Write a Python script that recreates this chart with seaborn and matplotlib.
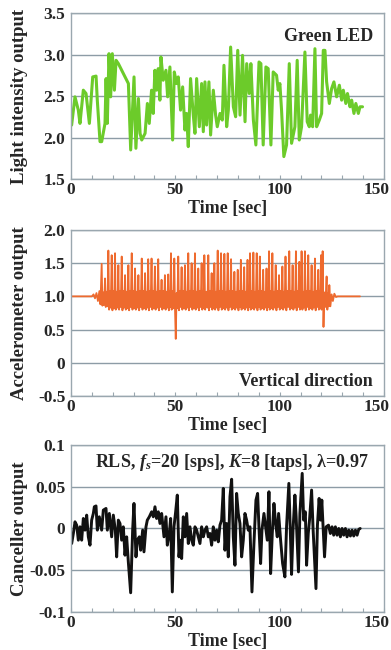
import numpy as np
import pandas as pd
import matplotlib
matplotlib.use("Agg")
import matplotlib.pyplot as plt
from matplotlib.ticker import MultipleLocator
from matplotlib.transforms import ScaledTranslation
import seaborn as sns

# ---------------- data ----------------
led_time = [0.3, 1.9, 3.5, 4.3, 5.9, 7.2, 8.8, 10.4, 12.0, 12.6, 13.9, 14.7, 16.3, 16.8, 17.4,
            18.2, 19.0, 19.8, 20.8, 21.6, 22.7, 27.5, 28.6, 29.5, 30.2, 31.1, 32.3, 33.1, 33.9,
            35.5, 36.6, 37.5, 38.6, 39.4, 40.2, 41.0, 41.8, 42.6, 43.1, 44.2, 45.5, 46.3, 47.4,
            48.7, 49.5, 50.6, 51.4, 52.5, 53.5, 54.6, 55.4, 56.2, 57.3, 58.6, 59.4, 60.2, 61.5,
            62.6, 63.4, 64.2, 65.0, 66.1, 66.9, 68.2, 69.3, 70.1, 71.4, 72.5, 73.3, 74.6, 75.4,
            76.5, 77.8, 78.9, 79.9, 81.0, 82.2, 83.4, 84.2, 85.4, 86.2, 87.4, 88.6, 90.1, 91.0,
            92.1, 93.4, 94.5, 95.8, 96.9, 98.5, 99.3, 100.1, 100.9, 102.0, 103.3, 104.6, 105.7,
            107.3, 108.4, 109.4, 110.5, 112.1, 113.2, 114.2, 114.8, 115.8, 116.9, 117.7, 119.0,
            120.1, 120.9, 121.7, 122.5, 123.8, 124.9, 126.0, 127.3, 128.6, 129.7, 130.5, 131.7,
            132.5, 133.7, 134.5, 135.6, 136.5, 137.7, 138.5, 139.7]
led_value = [2.15, 2.49, 2.33, 2.17, 2.57, 2.53, 2.17, 2.73, 2.74, 2.45, 1.95, 1.95, 2.17, 2.71, 2.17,
             3.01, 2.49, 3.01, 2.57, 2.93, 2.89, 2.65, 1.85, 2.33, 2.73, 1.87, 2.47, 2.05, 1.97,
             2.05, 2.41, 2.17, 2.57, 2.29, 2.81, 2.57, 2.83, 2.45, 2.97, 2.69, 2.81, 2.49, 2.85,
             1.97, 2.79, 2.65, 2.73, 2.33, 2.61, 2.09, 2.29, 1.89, 2.71, 2.27, 2.05, 2.71, 2.13,
             2.65, 2.07, 2.67, 2.15, 2.67, 2.03, 2.57, 2.27, 2.13, 2.29, 2.21, 2.87, 2.13, 2.33,
             3.09, 2.37, 2.25, 3.05, 2.27, 2.99, 2.19, 2.89, 2.53, 2.89, 2.21, 1.91, 2.91, 2.89,
             1.91, 2.85, 2.83, 1.91, 2.79, 2.75, 2.57, 2.65, 2.33, 1.77, 1.91, 2.89, 1.93,
             2.13, 2.93, 1.97, 2.13, 3.03, 2.19, 2.13, 2.27, 2.13, 3.07, 2.13, 2.21,
             2.29, 3.05, 3.05, 2.67, 2.41, 2.59, 2.67, 2.49, 2.63, 2.45, 2.57, 2.41,
             2.53, 2.37, 2.45, 2.29, 2.41, 2.29, 2.37, 2.37]

acc_time = [0.0, 10.0, 10.8, 11.5, 12.2, 12.9, 13.6, 14.1,
            14.7, 15.05, 15.5, 15.85, 16.3, 16.65, 17.1, 17.45, 17.9, 18.25, 18.7, 19.05,
            19.5, 19.85, 20.3, 20.65, 21.1, 21.45, 21.9, 22.25, 22.7, 23.05, 23.5, 23.85,
            24.3, 24.65, 25.1, 25.45, 25.9, 26.25, 26.7, 27.05, 27.5, 27.85, 28.3, 28.65,
            29.1, 29.45, 29.9, 30.25, 30.7, 31.05, 31.5, 31.85, 32.3, 32.65, 33.1, 33.45,
            33.9, 34.25, 34.7, 35.05, 35.5, 35.85, 36.3, 36.65, 37.0, 37.35, 37.8, 38.15,
            38.6, 38.95, 39.4, 39.75, 40.2, 40.55, 41.0, 41.35, 41.8, 42.15, 42.6, 42.95,
            43.4, 43.75, 44.2, 44.55, 45.0, 45.35, 45.8, 46.15, 46.6, 46.9, 47.25, 47.55,
            47.9, 48.25, 48.7, 49.05, 49.5, 49.85, 50.2, 50.6, 50.95,
            51.4, 51.75, 52.2, 52.55, 53.0, 53.35, 53.8, 54.15, 54.6, 54.95, 55.4, 55.75,
            56.2, 56.55, 57.0, 57.35, 57.8, 58.15, 58.6, 58.95, 59.4, 59.75, 60.2, 60.55,
            61.0, 61.35, 61.8, 62.15, 62.6, 62.9, 63.25, 63.55, 63.9, 64.3, 64.9, 65.4,
            65.8, 66.15, 66.6, 66.95, 67.4, 67.7, 68.05, 68.35, 68.7, 69.05, 69.5, 69.85,
            70.3, 70.65, 71.1, 71.45, 71.9, 72.25, 72.7, 73.05, 73.5, 73.85, 74.3, 74.65,
            75.1, 75.45, 75.9, 76.25, 76.7, 77.05, 77.5, 77.85, 78.3, 78.65, 79.1, 79.45,
            79.9, 80.25, 80.65, 81.0, 81.4, 81.75, 82.2, 82.55, 83.0, 83.35, 83.8, 84.15,
            84.6, 84.9, 85.2, 85.5, 85.8, 86.15, 86.6, 86.95, 87.4, 87.75, 88.2, 88.55,
            89.0, 89.35, 89.75, 90.1, 90.5, 90.85, 91.3, 91.65, 92.1, 92.45, 92.9, 93.25,
            93.7, 94.0, 94.3, 94.6, 94.9, 95.25, 95.7, 96.05, 96.5, 96.85, 97.3, 97.65,
            98.1, 98.45, 98.9, 99.25, 99.7, 100.05, 100.5, 100.85, 101.3, 101.65, 102.05, 102.4,
            102.8, 103.2, 103.7, 104.15, 104.6, 104.95, 105.4, 105.75, 106.2, 106.55, 107.0, 107.35,
            107.8, 108.15, 108.6, 108.95, 109.4, 109.7, 109.95, 110.2, 110.5, 110.9, 111.3, 111.7,
            112.1, 112.45, 112.9, 113.25, 113.7, 114.05, 114.5, 114.85, 115.3, 115.65, 116.1, 116.45,
            116.9, 117.25, 117.7, 118.05, 118.5, 118.8, 119.15, 119.45, 119.8, 120.1, 120.35,
            120.6, 121.0, 121.4, 121.8, 122.1, 122.5, 122.85, 123.2, 123.5,
            123.8, 124.3, 124.9, 125.5, 126.2, 127.0, 127.8, 138.5]
acc_value = [1.0, 1.0, 1.03, 0.97, 1.05, 0.93, 1.08, 0.88,
             1.49, 0.86, 1.06, 0.87, 1.27, 0.84, 1.07, 0.85, 1.69, 0.80, 1.08, 0.83,
             1.62, 0.79, 1.08, 0.82, 1.65, 0.80, 1.07, 0.83, 1.47, 0.80, 1.08, 0.84,
             1.60, 0.79, 1.08, 0.83, 1.32, 0.80, 1.07, 0.82, 1.47, 0.79, 1.08, 0.84,
             1.65, 0.80, 1.08, 0.82, 1.42, 0.80, 1.07, 0.83, 1.32, 0.79, 1.08, 0.84,
             1.57, 0.80, 1.08, 0.82, 1.35, 0.80, 1.07, 0.83, 1.56, 0.79, 1.08, 0.84,
             1.57, 0.80, 1.08, 0.82, 1.45, 0.80, 1.07, 0.83, 1.56, 0.79, 1.08, 0.84,
             1.25, 0.80, 1.08, 0.82, 1.32, 0.80, 1.07, 0.83, 1.33, 0.79, 1.08, 0.84,
             1.65, 0.80, 1.08, 0.82, 1.57, 0.80, 0.36, 1.05, 0.82,
             1.60, 0.79, 1.08, 0.84, 1.44, 0.80, 1.08, 0.82, 1.47, 0.80, 1.07, 0.83,
             1.65, 0.79, 1.08, 0.84, 1.50, 0.80, 1.08, 0.82, 1.65, 0.80, 1.07, 0.83,
             1.42, 0.79, 1.08, 0.84, 1.50, 0.80, 1.08, 0.82, 1.62, 0.80, 1.07, 0.83,
             1.62, 0.79, 1.08, 0.84, 1.35, 0.80, 1.08, 0.82, 1.50, 0.80, 1.07, 0.83,
             1.69, 0.79, 1.08, 0.84, 1.65, 0.80, 1.08, 0.82, 1.64, 0.80, 1.07, 0.83,
             1.65, 0.79, 1.08, 0.84, 1.56, 0.80, 1.08, 0.82, 1.37, 0.80, 1.07, 0.83,
             1.40, 0.79, 1.08, 0.84, 1.55, 0.80, 1.08, 0.82, 1.44, 0.80, 1.07, 0.83,
             1.55, 0.79, 1.08, 0.84, 1.65, 0.80, 1.08, 0.82, 1.66, 0.80, 1.07, 0.83,
             1.65, 0.79, 1.08, 0.84, 1.60, 0.80, 1.08, 0.82, 1.40, 0.80, 1.07, 0.83,
             1.42, 0.79, 1.08, 0.84, 1.68, 0.80, 1.08, 0.82, 1.65, 0.80, 1.07, 0.83,
             1.47, 0.79, 1.08, 0.84, 1.32, 0.80, 1.08, 0.82, 1.45, 0.80, 1.07, 0.83,
             1.60, 0.79, 1.08, 0.84, 1.68, 0.80, 1.08, 0.82, 1.47, 0.80, 1.07, 0.83,
             1.68, 0.79, 1.08, 0.84, 1.52, 0.80, 1.08, 0.82, 1.68, 0.80, 1.07, 0.83,
             1.68, 0.79, 1.08, 0.84, 1.62, 0.80, 1.08, 0.82, 1.47, 0.80, 1.07, 0.83,
             1.57, 0.79, 1.08, 0.84, 1.40, 0.80, 1.08, 0.82, 1.62, 0.80, 1.05,
             1.68, 0.54, 1.06, 0.84, 1.02, 1.30, 0.80, 1.05, 0.85,
             1.17, 0.85, 1.03, 0.93, 1.04, 0.99, 1.0, 1.0]

can_time = [0.32, 1.12, 1.92, 2.72, 3.51, 4.31, 5.11, 5.91, 6.71, 7.51, 8.30, 9.10, 9.90, 10.70,
            11.18, 11.98, 12.62, 13.57, 14.69, 15.49, 16.77, 17.41, 18.37, 19.48, 20.28, 21.24,
            21.88, 22.68, 23.48, 24.27, 25.07, 25.87, 26.67, 27.47, 28.59, 29.54, 30.18, 31.14,
            31.78, 32.74, 33.38, 34.34, 34.97, 35.93, 36.57, 37.53, 38.65, 39.45, 40.24, 41.04,
            41.84, 42.64, 43.44, 44.56, 45.51, 46.15, 47.11, 47.75, 48.55, 49.35, 50.15, 50.94,
            51.74, 52.54, 53.02, 53.82, 54.62, 55.42, 56.21, 57.01, 57.81, 58.61, 59.41, 60.21,
            61.01, 61.80, 62.60, 63.40, 64.20, 65.00, 65.80, 66.60, 67.39, 68.19, 68.99, 69.79,
            70.59, 71.39, 72.18, 72.98, 73.78, 74.58, 75.38, 76.18, 76.98, 77.77, 78.57, 79.37,
            80.17, 80.97, 81.77, 82.57, 83.36, 84.16, 84.96, 85.76, 86.72, 87.67, 88.63, 89.43,
            90.07, 90.87, 91.51, 92.47, 93.26, 94.06, 94.86, 95.66, 96.46, 97.26, 98.06, 98.85,
            99.49, 100.45, 101.41, 102.5, 103.3, 104.4, 105.0, 105.7, 106.4, 107.3, 107.9, 109.0,
            109.7, 110.8, 111.5, 112.3, 112.9, 113.7, 114.3, 115.3, 116.0, 117.4, 118.1, 118.9,
            119.6, 120.2, 121.5, 122.3, 123.4, 124.3, 125.1, 125.9, 126.7, 127.5, 128.3, 129.1,
            129.9, 130.7, 131.5, 132.3, 133.1, 133.9, 134.7, 135.5, 136.3, 137.1, 137.9, 138.6]
can_value = [-0.018, -0.006, 0.008, 0.004, -0.014, 0.002, -0.014, 0.012, -0.002, 0.016, -0.010,
             -0.020, 0.010, 0.018, 0.026, 0.027, -0.002, 0.014, -0.002, 0.022, 0.024, -0.002,
             0.018, -0.010, 0.016, -0.002, -0.034, 0.010, 0.006, -0.014, 0.002, -0.032, -0.010,
             -0.040, -0.077, -0.002, 0.030, -0.034, -0.014, -0.010, -0.026, -0.002, -0.028,
             0.002, 0.010, 0.014, 0.020, 0.014, 0.026, 0.012, 0.020, 0.006, 0.018, -0.010,
             0.014, -0.020, -0.006, 0.012, -0.076, 0.002, 0.020, 0.040, -0.034, -0.014, -0.036,
             0.014, -0.010, 0.018, -0.018, 0.002, -0.014, -0.020, 0.002, -0.002, -0.010, -0.018,
             0.002, -0.010, -0.002, 0.002, -0.010, -0.006, -0.020, 0.002, -0.014, -0.002, -0.016,
             0.004, 0.010, 0.048, -0.026, 0.006, -0.034, 0.038, 0.059, -0.010, -0.044, 0.042,
             0.018, 0.006, -0.034, -0.014, 0.018, 0.010, -0.002, 0.002, -0.076, -0.018, 0.034,
             0.042, 0.002, -0.042, -0.002, 0.018, 0.002, -0.014, 0.044, -0.054, -0.006, 0.030,
             0.006, -0.010, 0.018, -0.014, -0.042, -0.058, 0.002, 0.054, 0.006, -0.055, -0.002,
             0.040, 0.014, -0.052, 0.018, 0.066, 0.010, 0.020, -0.044, -0.006, 0.010, 0.046,
             0.000, -0.072, 0.004, 0.036, 0.010, 0.034, -0.034, 0.002, 0.004, -0.006, 0.002,
             -0.008, 0.002, -0.008, 0.000, -0.010, 0.000, -0.008, 0.000, -0.010, -0.002, -0.009,
             -0.002, -0.009, -0.002, -0.008, -0.001, 0.000]

x_ticks = [0, 50, 100, 150]
led_ticks = [1.5, 2.0, 2.5, 3.0, 3.5]
led_ticklabels = ["1.5", "2.0", "2.5", "3.0", "3.5"]
acc_ticks = [-0.5, 0.0, 0.5, 1.0, 1.5, 2.0]
acc_ticklabels = ["-0.5", "0", "0.5", "1.0", "1.5", "2.0"]
can_ticks = [-0.1, -0.05, 0.0, 0.05, 0.1]
can_ticklabels = ["-0.1", "-0.05", "0", "0.05", "0.1"]

# ---------------- style ----------------
sns.set_theme(style="white")
plt.rcParams["font.family"] = ["Liberation Serif", "DejaVu Serif"]
plt.rcParams["mathtext.fontset"] = "custom"
plt.rcParams["mathtext.rm"] = "Liberation Serif:bold"
plt.rcParams["mathtext.it"] = "Liberation Serif:italic:bold"
plt.rcParams["mathtext.bf"] = "Liberation Serif:bold"

grid_color = "#8D9CA6"
spine_color = "#9AA7AF"

fig = plt.figure(figsize=(3.91, 6.5), dpi=100)
ax1 = fig.add_axes([0.1816, 0.7246, 0.8005, 0.2554])
ax2 = fig.add_axes([0.1816, 0.3908, 0.8005, 0.2554])
ax3 = fig.add_axes([0.1816, 0.0585, 0.8005, 0.2569])

df1 = pd.DataFrame({"t": led_time, "v": led_value})
df2 = pd.DataFrame({"t": acc_time, "v": acc_value})
df3 = pd.DataFrame({"t": can_time, "v": can_value})

sns.lineplot(data=df1, x="t", y="v", ax=ax1, color="#6CCB2A", lw=2.2, estimator=None, sort=False)
sns.lineplot(data=df2, x="t", y="v", ax=ax2, color="#EE6A2E", lw=1.3, estimator=None, sort=False)
sns.lineplot(data=df3, x="t", y="v", ax=ax3, color="#111111", lw=2.1, estimator=None, sort=False)


def style(ax, ylim, yticks, yticklabels, ylabel):
    ax.set_xlim(0, 150)
    ax.set_ylim(*ylim)
    ax.set_xticks(x_ticks)
    ax.set_xticklabels([str(v) for v in x_ticks])
    ax.xaxis.set_minor_locator(MultipleLocator(10))
    ax.set_yticks(yticks)
    ax.set_yticklabels(yticklabels)
    ax.tick_params(axis="x", which="both", direction="in", length=3, width=0.8,
                   color=spine_color, pad=2, bottom=True)
    ax.tick_params(axis="x", labelsize=12.5)
    ax.tick_params(axis="y", length=0, pad=4, labelsize=12.5)
    for lab in ax.get_xticklabels() + ax.get_yticklabels():
        lab.set_fontweight("bold")
    last = ax.get_xticklabels()[-1]
    last.set_transform(last.get_transform() + ScaledTranslation(-7 / 100, 0, fig.dpi_scale_trans))
    ax.grid(axis="y", color=grid_color, lw=1.0)
    ax.grid(axis="x", visible=False)
    ax.set_axisbelow(True)
    for sp in ax.spines.values():
        sp.set_color(spine_color)
        sp.set_linewidth(1.0)
    ax.set_xlabel("Time [sec]", fontsize=13, fontweight="bold")
    ax.set_ylabel(ylabel, fontsize=13.5, fontweight="bold")
    ax.xaxis.set_label_coords(0.5, -0.125)
    ax.yaxis.set_label_coords(-0.137, 0.5)


style(ax1, (1.5, 3.5), led_ticks, led_ticklabels, "Light intensity output")
style(ax2, (-0.5, 2.0), acc_ticks, acc_ticklabels, "Accelerometer output")
style(ax3, (-0.1, 0.1), can_ticks, can_ticklabels, "Canceller output")

ax1.text(0.965, 0.86, "Green LED", transform=ax1.transAxes, ha="right", va="center",
         fontsize=13, fontweight="bold")
ax2.text(0.965, 0.09, "Vertical direction", transform=ax2.transAxes, ha="right", va="center",
         fontsize=13, fontweight="bold")
ax3.text(0.513, 0.895, r"RLS, $f_s$=20 [sps], $K$=8 [taps], λ=0.97", transform=ax3.transAxes,
         ha="center", va="center", fontsize=13, fontweight="bold")

fig.savefig("out.png", dpi=100)
